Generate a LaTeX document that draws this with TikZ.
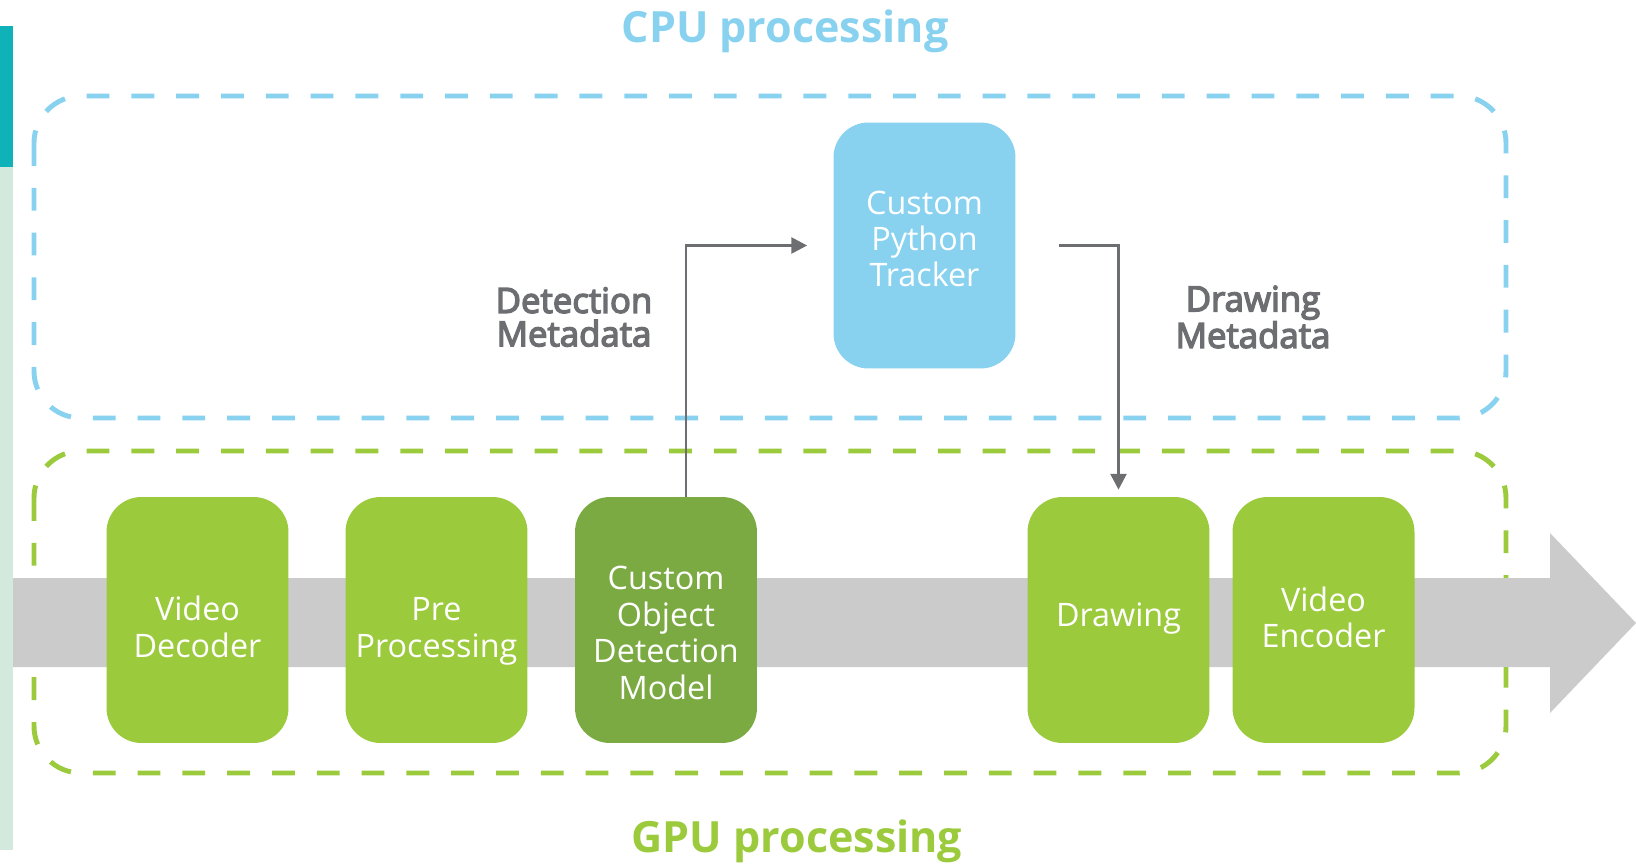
\documentclass[tikz,border=0pt]{standalone}
\usepackage{fontspec}
\setmainfont{Open Sans}
\newfontfamily\semibold{Open Sans}[FakeBold=4]
\usetikzlibrary{arrows.meta}
\definecolor{cpublue}{HTML}{88D2F0}
\definecolor{gpugreen}{HTML}{9BCA3C}
\definecolor{modelgreen}{HTML}{7BAA43}
\definecolor{bandgray}{HTML}{CBCBCB}
\definecolor{linkgray}{HTML}{6D6E71}
\definecolor{edgeteal}{HTML}{10B2BA}
\definecolor{edgemint}{HTML}{D3E9DD}
% box text, moved up or down by #1
\newcommand\stagetext[2]{\raisebox{#1}[\height][\depth]{\begin{tabular}{@{}c@{}}#2\end{tabular}}}

\begin{document}
\begin{tikzpicture}[x=0.02cm, y=-0.02cm,
  stage/.style={fill=gpugreen, rounded corners=0.7cm, minimum width=3.64cm,
    minimum height=4.92cm, inner sep=0pt, text=white,
    font=\fontsize{18.4}{20.7}\selectfont},
  zone/.style={line width=2.8pt, dash pattern=on 13pt off 12.5pt, rounded corners=0.94cm},
  flow/.style={->, >={Triangle[length=9pt, width=9pt]}, line width=1.7pt, draw=linkgray},
  title/.style={font=\bfseries\fontsize{24.5}{28}\selectfont},
  meta/.style={text=linkgray, align=center, font=\semibold\fontsize{19.8}{19}\selectfont}]
  \useasboundingbox (0,0) rectangle (1636,864);
  % side strip
  \fill[edgeteal] (0,26) rectangle (13,167);
  \fill[edgemint] (0,167) rectangle (13,850);
  % processing zones
  \draw[zone, cpublue] (34,96) rectangle (1506,418);
  \draw[zone, gpugreen] (34,451) rectangle (1506,773);
  % video stream
  \fill[bandgray] (13,578) -- (1550,578) -- (1550,533) -- (1636,623)
    -- (1550,713) -- (1550,667) -- (13,667) -- cycle;
  \node[stage] (decoder) at (197.5,620) {\stagetext{-6.7pt}{Video\\Decoder}};
  \node[stage] (pre) at (436.5,620) {\stagetext{-6.7pt}{Pre\\Processing}};
  \node[stage, fill=modelgreen] (model) at (666,620) {\stagetext{-9.8pt}{Custom\\Object\\Detection\\Model}};
  \node[stage] (drawing) at (1118.5,620) {\stagetext{0.7pt}{Drawing}};
  \node[stage] (encoder) at (1323.5,620) {\stagetext{-1.4pt}{Video\\Encoder}};
  \node[stage, fill=cpublue] (tracker) at (924.5,245.5) {\stagetext{1.3pt}{Custom\\Python\\Tracker}};
  \node[meta] (detmeta) at (574,317) {Detection\\Metadata};
  \node[meta] (drawmeta) at (1253,317) {Drawing\\Metadata};
  \node[title, text=cpublue] (cpu) at (785,31) {CPU processing};
  \node[title, text=gpugreen] (gpu) at (797,841) {GPU processing};
  % metadata links
  \draw[flow, shorten >=0.52cm] ([xshift=0.4cm]model.north) |- (tracker.west);
  \draw[flow, shorten >=0.14cm] ([xshift=0.86cm]tracker.east) -| (drawing.north);
\end{tikzpicture}
\end{document}
